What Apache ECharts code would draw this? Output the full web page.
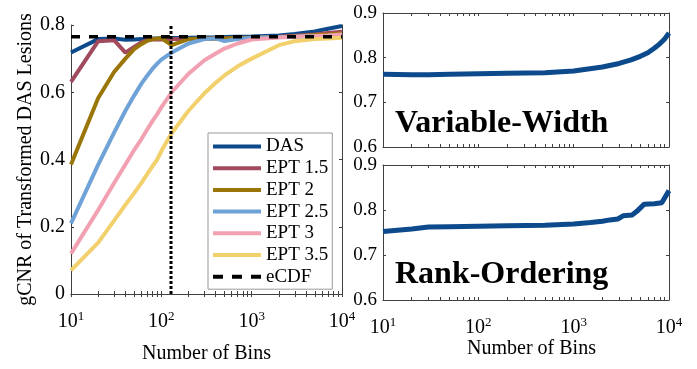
<!DOCTYPE html>
<html>
<head>
<meta charset="utf-8">
<script src="https://cdn.jsdelivr.net/npm/echarts@6/dist/echarts.min.js"></script>
<style>
  html, body { margin: 0; padding: 0; background: #fff; }
  #chart { width: 697px; height: 369px; }
</style>
</head>
<body>
<div id="chart"></div>
<script>
// left panel: gCNR vs number of bins
const bins = [10, 20, 30, 40, 50, 60, 70, 80, 90, 100, 130, 200, 300, 400, 500, 700, 1000, 2000, 3000, 5000, 7000, 10000]
const das = [0.718, 0.758, 0.760, 0.756, 0.757, 0.758, 0.759, 0.760, 0.760, 0.761, 0.761, 0.762, 0.763, 0.763, 0.764, 0.765, 0.766, 0.769, 0.773, 0.781, 0.789, 0.797]
const ept15 = [0.631, 0.752, 0.755, 0.718, 0.735, 0.748, 0.755, 0.757, 0.757, 0.757, 0.758, 0.758, 0.759, 0.760, 0.760, 0.761, 0.762, 0.765, 0.768, 0.772, 0.776, 0.780]
const ept2 = [0.385, 0.583, 0.660, 0.700, 0.728, 0.743, 0.753, 0.758, 0.760, 0.761, 0.740, 0.758, 0.760, 0.760, 0.760, 0.761, 0.762, 0.764, 0.766, 0.770, 0.772, 0.775]
const ept25 = [0.210, 0.385, 0.480, 0.545, 0.590, 0.625, 0.650, 0.670, 0.685, 0.697, 0.718, 0.745, 0.758, 0.760, 0.752, 0.758, 0.762, 0.764, 0.765, 0.767, 0.768, 0.770]
const ept3 = [0.120, 0.250, 0.330, 0.385, 0.428, 0.460, 0.490, 0.515, 0.535, 0.555, 0.600, 0.655, 0.695, 0.715, 0.730, 0.745, 0.757, 0.763, 0.765, 0.767, 0.769, 0.772]
const ept35 = [0.070, 0.153, 0.218, 0.265, 0.300, 0.330, 0.357, 0.380, 0.400, 0.425, 0.478, 0.545, 0.597, 0.628, 0.650, 0.677, 0.700, 0.740, 0.752, 0.758, 0.760, 0.762]
const ecdfLevel = 0.765
const binMarker = 128

// right panels
const vwBins = [10, 20, 30, 50, 100, 200, 500, 1000, 2000, 3000, 4000, 5000, 6000, 7000, 8000, 9000, 10000]
const vwVals = [0.763, 0.762, 0.762, 0.763, 0.764, 0.765, 0.766, 0.770, 0.779, 0.787, 0.795, 0.803, 0.811, 0.821, 0.831, 0.842, 0.855]
const roBins = [10, 20, 30, 50, 100, 200, 500, 1000, 1500, 2000, 2400, 2900, 3300, 4100, 4600, 5500, 7000, 8400, 10000]
const roVals = [0.752, 0.758, 0.762, 0.763, 0.764, 0.765, 0.766, 0.769, 0.772, 0.775, 0.778, 0.780, 0.787, 0.789, 0.797, 0.813, 0.814, 0.816, 0.843]

const serif = 'Liberation Serif'
const axisColor = '#404040'

// tick positions 10,20,..,90,100,200,...,10000
const logTicks = []
for (let d = 10; d < 10000; d *= 10) {
  for (let k = 1; k < 10; k++) logTicks.push(d * k)
}
logTicks.push(10000)

const pairs = (xs, ys) => xs.map((x, i) => [x, ys[i]])

function xAxes(gridIndex, nameGap, namePad) {
  const common = {
    gridIndex,
    type: 'log',
    logBase: 10,
    min: 10,
    max: 10000,
    axisLine: { show: true, lineStyle: { color: axisColor, width: 1 } },
    axisTick: { show: true, inside: true, length: 3, customValues: logTicks, lineStyle: { color: axisColor } },
    splitLine: { show: false },
    minorTick: { show: false }
  }
  return [
    Object.assign({}, common, {
      position: 'bottom',
      name: 'Number of Bins',
      nameLocation: 'middle',
      nameGap,
      nameTextStyle: { fontFamily: serif, fontSize: 20, color: '#000', padding: namePad },
      axisLabel: {
        margin: 16,
        formatter: v => '{b|10}{s|' + Math.round(Math.log10(v)) + '}',
        rich: {
          b: { fontFamily: serif, fontSize: 20, lineHeight: 22, color: '#000', verticalAlign: 'bottom' },
          s: { fontFamily: serif, fontSize: 13, lineHeight: 14, color: '#000', verticalAlign: 'top' }
        }
      }
    }),
    Object.assign({}, common, { position: 'top', axisLabel: { show: false } })
  ]
}

function yAxes(gridIndex, min, max, interval, fontSize, name) {
  const common = {
    gridIndex,
    type: 'value',
    min,
    max,
    interval,
    axisLine: { show: true, lineStyle: { color: axisColor, width: 1 } },
    axisTick: { show: true, inside: true, length: 3, lineStyle: { color: axisColor } },
    splitLine: { show: false }
  }
  return [
    Object.assign({}, common, {
      position: 'left',
      name: name || '',
      nameLocation: 'middle',
      nameRotate: 90,
      nameGap: 31,
      nameTextStyle: { fontFamily: serif, fontSize: 20, color: '#000' },
      axisLabel: { margin: 6, fontFamily: serif, fontSize, color: '#000' }
    }),
    Object.assign({}, common, { position: 'right', axisLabel: { show: false } })
  ]
}

const curves = [
  { name: 'DAS', data: das, color: '#0d4a8c' },
  { name: 'EPT 1.5', data: ept15, color: '#a14a5e' },
  { name: 'EPT 2', data: ept2, color: '#9a7608' },
  { name: 'EPT 2.5', data: ept25, color: '#6fa2d6' },
  { name: 'EPT 3', data: ept3, color: '#f1a1b1' },
  { name: 'EPT 3.5', data: ept35, color: '#f2d06c' }
]

const series = curves.map(c => ({
  name: c.name,
  type: 'line',
  xAxisIndex: 0,
  yAxisIndex: 0,
  data: pairs(bins, c.data),
  symbol: 'none',
  color: c.color,
  lineStyle: { width: 4, color: c.color }
}))

series.push({
  name: 'eCDF',
  type: 'line',
  xAxisIndex: 0,
  yAxisIndex: 0,
  data: [[10, ecdfLevel], [10000, ecdfLevel]],
  symbol: 'none',
  color: '#000',
  lineStyle: { width: 3.5, color: '#000', type: [9, 9] }
})

series.push({
  name: 'bins128',
  type: 'line',
  xAxisIndex: 0,
  yAxisIndex: 0,
  data: [[binMarker, 0], [binMarker, 0.8]],
  symbol: 'none',
  lineStyle: { width: 3, color: '#000', type: [3, 2] }
})

series.push({
  name: 'Variable-Width',
  type: 'line',
  xAxisIndex: 2,
  yAxisIndex: 2,
  data: pairs(vwBins, vwVals),
  symbol: 'none',
  lineStyle: { width: 5, color: '#0d4a8c' }
})

series.push({
  name: 'Rank-Ordering',
  type: 'line',
  xAxisIndex: 4,
  yAxisIndex: 4,
  data: pairs(roBins, roVals),
  symbol: 'none',
  lineStyle: { width: 5, color: '#0d4a8c' }
})

const legendNames = ['DAS', 'EPT 1.5', 'EPT 2', 'EPT 2.5', 'EPT 3', 'EPT 3.5']
const dashIcon = 'path://M0,0h10v4h-10z M19,0h10v4h-10z M38,0h10v4h-10z'

const chart = echarts.init(document.getElementById('chart'))
chart.setOption({
  animation: false,
  backgroundColor: '#fff',
  grid: [
    { left: 71, top: 25, width: 271, height: 276 },
    { left: 383, top: 13, width: 286, height: 134 },
    { left: 383, top: 165, width: 286, height: 135 }
  ],
  xAxis: [].concat(xAxes(0, 50, [0, 0, 0, 0]), xAxes(1, 34, [0, 0, 0, 0]), xAxes(2, 34, [0, 0, 0, 11])).map((a, i) => {
    // top right panel has no labels of its own
    if (i === 2) { a.axisLabel = { show: false }; a.name = '' }
    return a
  }),
  yAxis: [].concat(
    yAxes(0, 0, 0.8, 0.2, 20, 'gCNR of Transformed DAS Lesions'),
    yAxes(1, 0.6, 0.9, 0.1, 19),
    yAxes(2, 0.6, 0.9, 0.1, 19)
  ),
  legend: {
    data: legendNames.map(n => ({ name: n, icon: 'rect' })).concat([{ name: 'eCDF', icon: dashIcon }]),
    orient: 'vertical',
    left: 208,
    top: 133,
    itemWidth: 48,
    itemHeight: 4,
    itemGap: 2.7,
    padding: [4, 4, 3, 5],
    borderColor: '#999',
    borderWidth: 1,
    backgroundColor: '#fff',
    textStyle: { fontFamily: serif, fontSize: 19, lineHeight: 19, color: '#000' }
  },
  graphic: [
    { type: 'text', left: 395, top: 108, style: { text: 'Variable-Width', font: 'bold 32px "Liberation Serif"', fill: '#000' } },
    { type: 'text', left: 395, top: 259, style: { text: 'Rank-Ordering', font: 'bold 32px "Liberation Serif"', fill: '#000' } }
  ],
  series
})
</script>
</body>
</html>
